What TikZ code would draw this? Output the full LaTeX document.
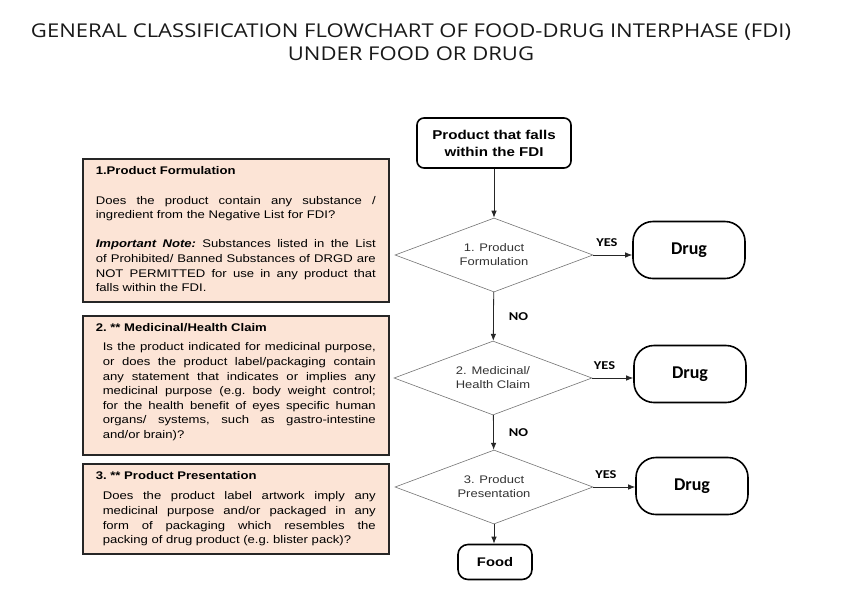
\documentclass[tikz,border=0pt]{standalone}
\usepackage{fontspec}
\setmainfont{Liberation Sans}[FakeStretch=1.18]
\newfontfamily\titlefont{Open Sans}[FakeStretch=1.16]
\newfontfamily\calfont{Carlito}[FakeStretch=1.2]
\newfontfamily\drugfont{Carlito}
\usetikzlibrary{
  shapes.geometric,
  arrows.meta,
  positioning,
  }

\definecolor{peach}{HTML}{FCE4D6}
% loose justified lines, no hyphens, like the word processor does it
\newcommand\qsetup{\parindent=0pt\hyphenpenalty=10000\exhyphenpenalty=10000\frenchspacing
  \spaceskip=\fontdimen2\font plus 1em\relax}

\tikzset{
  question/.style={draw=black!85, line width=1.6pt, fill=peach, anchor=north west,
    text width=280pt, inner xsep=12pt, inner ysep=8pt, align=justify,
    minimum width=306pt, font=\fontsize{11.1}{14.6}\selectfont},
  decision/.style={diamond, draw=black!55, line width=0.6pt, aspect=2.68,
    minimum width=198pt, minimum height=74pt, inner sep=1pt, align=center,
    text=black!80, font=\fontsize{11}{14}\selectfont},
  outcome/.style={draw, line width=1.6pt, rounded corners=20pt,
    minimum width=112pt, minimum height=57pt,
    font=\drugfont\bfseries\fontsize{18}{20}\selectfont},
  answer/.style={inner sep=1pt, font=\calfont\bfseries\fontsize{12}{14}\selectfont},
  flow/.style={-{Latex[length=7pt,width=5.5pt]}, line width=0.8pt, draw=black!85},
}

\begin{document}
\begin{tikzpicture}[x=1pt, y=-1pt]
\useasboundingbox (0,0) rectangle (866,592);

\node[align=center, text=black!90, font=\titlefont\fontsize{19}{23}\selectfont] (title) at (411,42)
  {GENERAL CLASSIFICATION FLOWCHART OF FOOD-DRUG INTERPHASE (FDI)\\UNDER FOOD OR DRUG};

% left hand questions
\node[question] (q1) at (82,158) {\qsetup
  \textbf{1.Product Formulation}\par\vspace{14.6pt}
  Does the product contain any substance / ingredient from the Negative List for FDI?\par\vspace{14.6pt}
  \textbf{\textit{Important Note:}} Substances listed in the List of Prohibited/ Banned Substances of DRGD are NOT PERMITTED for use in any product that falls within the FDI.\par\kern2pt};
\node[question] (q2) at (82,315) {\qsetup
  \textbf{2. ** Medicinal/Health Claim}\par\vspace{4.5pt}
  {\leftskip=7pt Is the product indicated for medicinal purpose, or does the product label/packaging contain any statement that indicates or implies any medicinal purpose (e.g. body weight control; for the health benefit of eyes specific human organs/ systems, such as gastro-intestine and/or brain)?\par}\kern6pt};
\node[question] (q3) at (82,463) {\qsetup
  \textbf{3. ** Product Presentation}\par\vspace{5.5pt}
  {\leftskip=7pt Does the product label artwork imply any medicinal purpose and/or packaged in any form of packaging which resembles the packing of drug product (e.g. blister pack)?\par}};

% flow
\node[draw, line width=1.6pt, rounded corners=7pt, minimum width=154pt, minimum height=50pt,
  align=center, font=\bfseries\fontsize{12.8}{17}\selectfont] (start) at (494,143)
  {Product that falls\\within the FDI};
\node[decision] (d1) at (494,255) {1. Product\\Formulation};
\node[decision] (d2) at (493,378) {2. Medicinal/\\Health Claim};
\node[decision] (d3) at (494,487) {3. Product\\Presentation};
\node[outcome] (drug1) at (689,250) {Drug};
\node[outcome] (drug2) at (690,374) {Drug};
\node[outcome] (drug3) at (692,486) {Drug};
\node[draw, line width=1.6pt, rounded corners=10pt, minimum width=74pt, minimum height=35pt,
  font=\bfseries\fontsize{12.5}{14}\selectfont] (food) at (495,562) {Food};

\draw[flow] (start) -- (d1);
\draw[flow] (d1) -- node[answer, right=14pt] {NO} (d2);
\draw[flow] (d2) -- node[answer, right=14pt] {NO} (d3);
\draw[flow] (d3) -- (d3.south |- food.north);
\draw[flow] (d1.east) -- node[answer, above=7pt, pos=0.35] {YES} (d1.east -| drug1.west);
\draw[flow] (d2.east) -- node[answer, above=7pt, pos=0.3] {YES} (d2.east -| drug2.west);
\draw[flow] (d3.east) -- node[answer, above=7pt, pos=0.3] {YES} (d3.east -| drug3.west);
\end{tikzpicture}
\end{document}
